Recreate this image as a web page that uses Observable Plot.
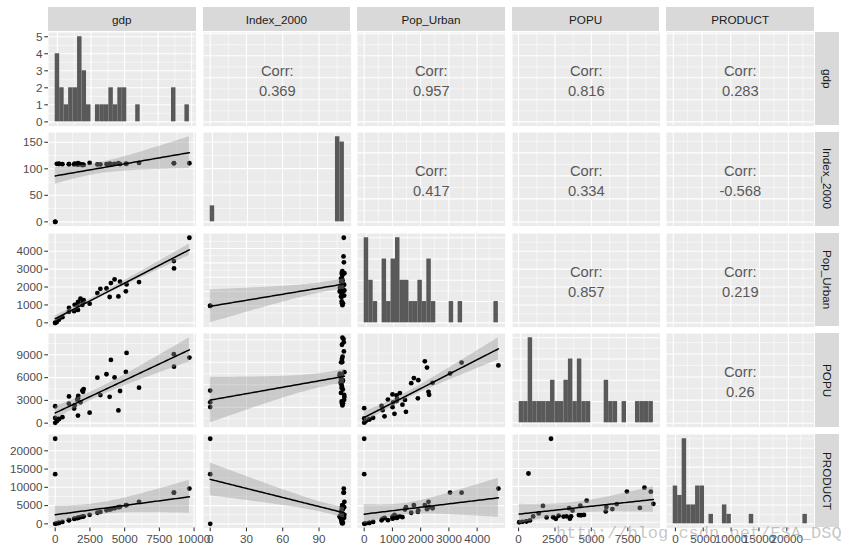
<!DOCTYPE html>
<html><head><meta charset="utf-8">
<script src="https://cdn.jsdelivr.net/npm/d3@7"></script>
<script src="https://cdn.jsdelivr.net/npm/@observablehq/plot@0.6"></script>
<style>
body{margin:0;background:#fff;font-family:"Liberation Sans",Arial,sans-serif}
#chart{position:relative;width:847px;height:552px;overflow:hidden;background:#fff}
.cell{position:absolute}
.strip{position:absolute;background:#D9D9D9;color:#1A1A1A;font-size:11.7px;display:flex;align-items:center;justify-content:center;white-space:nowrap}
.strip.v{writing-mode:vertical-rl}
.pp g[aria-label="x-axis tick label"], .pp g[aria-label="y-axis tick label"]{fill:#4D4D4D}
.pp g[aria-label="x-axis tick"], .pp g[aria-label="y-axis tick"]{stroke:#333333;stroke-width:1.07px}
.wm{position:absolute;font-family:"Liberation Mono",monospace;font-size:17px;color:rgba(150,150,150,0.55);white-space:nowrap}
</style></head><body><div id="chart"></div>
<script>
// variables (Chinese provinces 2000 + 3 extra rows)
const varNames = ["gdp","Index_2000","Pop_Urban","POPU","PRODUCT"];
const gdp       = [2479,1639,5089,1644,1401,4669,1821,3253,4551,8554,6036,3038,3920,2003,8542,5138,4276,3692,9662,2050,518,1589,4010,994,1955,117,1661,983,264,266,1364,0,0,0];
const index2000 = [111.0,110.8,109.5,107.8,109.7,108.9,109.0,108.2,110.8,110.6,111.0,108.3,109.5,108.0,110.3,109.4,109.3,109.0,110.5,107.3,108.8,108.5,109.0,108.7,107.1,109.4,109.7,108.7,109.0,109.8,108.2,0,0,0];
const popUrban  = [1072,720,1759,1151,1004,2299,1355,1901,1478,3041,2277,1665,1443,1146,3450,2147,2424,1917,4753,1264,316,1023,2224,840,1002,49,1163,615,180,180,651,0,0,0];
const popu      = [1382,1001,6744,3297,2376,4238,2750,3705,1674,7438,4677,5986,3471,4140,9079,9256,6028,6440,8642,4489,787,3090,8329,3525,4288,262,3605,2562,523,562,1925,2228,678,44];
const product   = [2479,1639,5089,1644,1401,4669,1821,3253,4551,8554,6036,3038,3920,2003,8542,5138,4276,3692,9662,2050,518,1589,4010,994,1955,117,1661,983,264,266,1364,23300,13600,0];

// correlation labels (upper triangle, row by row)
const corrPairs = [[0,1],[0,2],[0,3],[0,4],[1,2],[1,3],[1,4],[2,3],[2,4],[3,4]];
const corrText  = ["0.369","0.957","0.816","0.283","0.417","0.334","-0.568","0.857","0.219","0.26"];

// tick labels
const xBreaks = [[0,2500,5000,7500,10000],[0,30,60,90],[0,1000,2000,3000,4000],[0,2500,5000,7500],[0,5000,10000,15000,20000]];
const yBreaksLower = [null,[0,50,100,150],[0,1000,2000,3000,4000],[0,3000,6000,9000],[0,5000,10000,15000,20000]];

const cols = [gdp,index2000,popUrban,popu,product];
const colX = [48,202.6,357.2,511.8,666.4], pw = 147.6;
const rowY = [31.5,132.1,232.7,333.3,433.9], ph = 93.6;

const chart = document.getElementById("chart");
const expand = ([a,b],m=0.05)=>{const r=b-a; return [a-r*m,b+r*m];};
const inDom = (v,d)=>v>=Math.min(...d)-1e-9 && v<=Math.max(...d)+1e-9;
function minorOf(b,dom){
  const s=b[1]-b[0];
  const arr=[b[0]-s/2,...b.slice(0,-1).map((t,k)=>(t+b[k+1])/2),b[b.length-1]+s/2,b[b.length-1]+1.5*s];
  return arr.filter(v=>inDom(v,dom));
}
function lmBand(xs,ys){
  const n=xs.length, mx=d3.mean(xs), my=d3.mean(ys);
  let sxx=0,sxy=0; for(let k=0;k<n;k++){sxx+=(xs[k]-mx)**2; sxy+=(xs[k]-mx)*(ys[k]-my);}
  const b=sxy/sxx, a=my-b*mx;
  let sse=0; for(let k=0;k<n;k++){sse+=(ys[k]-a-b*xs[k])**2;}
  const s=Math.sqrt(sse/(n-2)), t=2.0369;
  const [x0,x1]=d3.extent(xs);
  return d3.range(80).map(k=>{const x=x0+(x1-x0)*k/79, yh=a+b*x, se=s*Math.sqrt(1/n+(x-mx)**2/sxx); return {x,y:yh,lo:yh-t*se,hi:yh+t*se};});
}
const fmt = d=>String(d);

function panel(i,j){
  const left=j===0, bottom=i===4;
  const mL=left?48:0, mB=bottom?26:0;
  let xdom,ydom,xb=xBreaks[j],yb,content=[];
  if(i===j){
    const v=cols[j]; const [mn,mx]=d3.extent(v); const w=(mx-mn)/29;
    const edges=d3.range(31).map(k=>mn-w/2+k*w);
    const bins=d3.bin().domain([edges[0],edges[30]]).thresholds(edges.slice(1,30))(v);
    const hb=bins.map(bn=>({x1:bn.x0,x2:bn.x1,n:bn.length}));
    const maxN=d3.max(hb,d=>d.n);
    xdom=expand([edges[0],edges[30]]);
    ydom=expand([0,maxN]);
    yb=d3.ticks(ydom[0],ydom[1],5);
    content=[Plot.rectY(hb,{x1:"x1",x2:"x2",y1:0,y2:"n",fill:"#595959",inset:0})];
  } else if(i<j){
    xdom=expand(d3.extent(cols[j])); ydom=expand(d3.extent(cols[i]));
    yb=xBreaks[i];
    const k=corrPairs.findIndex(p=>p[0]===i&&p[1]===j);
    content=[Plot.text([corrText[k]],{frameAnchor:"middle",text:d=>"Corr:\n"+d,fontSize:14.7,fill:"#595959",lineHeight:1.4})];
  } else {
    const xs=cols[j], ys=cols[i];
    const band=lmBand(xs,ys);
    xdom=expand(d3.extent(xs));
    ydom=expand(d3.extent([...ys,...band.map(d=>d.lo),...band.map(d=>d.hi)]));
    yb=yBreaksLower[i];
    const pts=xs.map((x,k)=>({x,y:ys[k]}));
    content=[
      Plot.dot(pts,{x:"x",y:"y",r:2.4,fill:"#000",stroke:null}),
      Plot.areaY(band,{x:"x",y1:"lo",y2:"hi",fill:"#999999",fillOpacity:0.4}),
      Plot.line(band,{x:"x",y:"y",stroke:"#000",strokeWidth:1.5})
    ];
  }
  const xMaj=xb.filter(v=>inDom(v,xdom)), yMaj=yb.filter(v=>inDom(v,ydom));
  const marks=[
    Plot.frame({fill:"#EBEBEB",stroke:"none"}),
    Plot.ruleX(minorOf(xb,xdom),{stroke:"#fff",strokeWidth:0.55}),
    Plot.ruleY(minorOf(yb,ydom),{stroke:"#fff",strokeWidth:0.55}),
    Plot.ruleX(xMaj,{stroke:"#fff",strokeWidth:1.1}),
    Plot.ruleY(yMaj,{stroke:"#fff",strokeWidth:1.1}),
    ...content
  ];
  if(left) marks.push(Plot.axisY(yMaj,{anchor:"left",tickSize:3.7,tickPadding:2.4,tickFormat:fmt,fontSize:11.7,label:null}));
  if(bottom) marks.push(Plot.axisX(xMaj,{anchor:"bottom",tickSize:3.7,tickPadding:2.4,tickFormat:fmt,fontSize:11.7,label:null}));
  const svg=Plot.plot({
    width:pw+mL,height:ph+mB,marginLeft:mL,marginRight:0,marginTop:0,marginBottom:mB,
    className:"pp",
    style:{background:"transparent",overflow:"visible",color:"#333333",fontFamily:"'Liberation Sans',Arial,sans-serif",fontSize:"11.7px"},
    x:{domain:xdom,axis:null},
    y:{domain:ydom,axis:null},
    marks
  });
  const wrap=document.createElement("div");
  wrap.className="cell";
  wrap.style.left=(colX[j]-mL)+"px";
  wrap.style.top=rowY[i]+"px";
  wrap.appendChild(svg);
  chart.appendChild(wrap);
}
for(let i=0;i<5;i++) for(let j=0;j<5;j++) panel(i,j);

// strips
varNames.forEach((nm,j)=>{
  const d=document.createElement("div"); d.className="strip";
  Object.assign(d.style,{left:colX[j]+"px",top:"7px",width:pw+"px",height:"24px"});
  d.textContent=nm; chart.appendChild(d);
  const r=document.createElement("div"); r.className="strip v";
  Object.assign(r.style,{left:"815px",top:rowY[j]+"px",width:"24px",height:ph+"px"});
  r.textContent=nm; chart.appendChild(r);
});
const wm=document.createElement("div"); wm.className="wm";
Object.assign(wm.style,{left:"556px",top:"524px"});
wm.textContent="http://blog.csdn.net/ESA_DSQ";
chart.appendChild(wm);
</script></body></html>
